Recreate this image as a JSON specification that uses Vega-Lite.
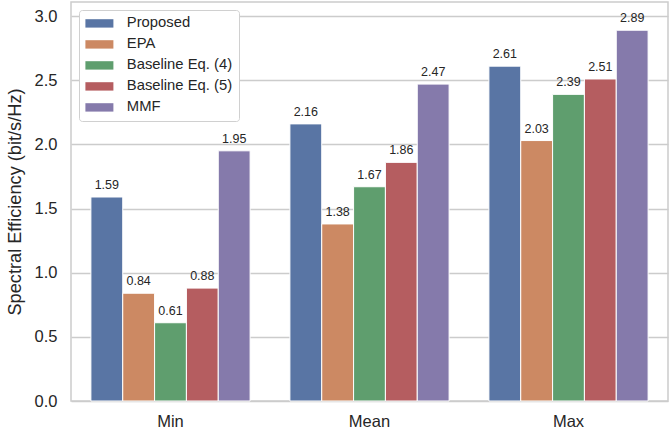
{
  "$schema": "https://vega.github.io/schema/vega-lite/v6.json",
  "autosize": {"type": "none"},
  "padding": {"left": 71, "top": 2, "right": 1, "bottom": 38},
  "width": 597,
  "height": 399,
  "background": "white",
  "config": {
    "font": "Liberation Sans",
    "view": {"stroke": "#cccccc", "strokeWidth": 1.5},
    "axis": {"labelColor": "#262626", "titleColor": "#262626", "titleFontWeight": "normal", "domain": false, "ticks": false}
  },
  "data": {
    "values": [
      {"stat": "Min", "method": "Proposed", "value": 1.59},
      {"stat": "Min", "method": "EPA", "value": 0.84},
      {"stat": "Min", "method": "Baseline Eq. (4)", "value": 0.61},
      {"stat": "Min", "method": "Baseline Eq. (5)", "value": 0.88},
      {"stat": "Min", "method": "MMF", "value": 1.95},
      {"stat": "Mean", "method": "Proposed", "value": 2.16},
      {"stat": "Mean", "method": "EPA", "value": 1.38},
      {"stat": "Mean", "method": "Baseline Eq. (4)", "value": 1.67},
      {"stat": "Mean", "method": "Baseline Eq. (5)", "value": 1.86},
      {"stat": "Mean", "method": "MMF", "value": 2.47},
      {"stat": "Max", "method": "Proposed", "value": 2.61},
      {"stat": "Max", "method": "EPA", "value": 2.03},
      {"stat": "Max", "method": "Baseline Eq. (4)", "value": 2.39},
      {"stat": "Max", "method": "Baseline Eq. (5)", "value": 2.51},
      {"stat": "Max", "method": "MMF", "value": 2.89}
    ]
  },
  "encoding": {
    "x": {
      "field": "stat", "type": "nominal", "sort": ["Min", "Mean", "Max"],
      "scale": {"paddingInner": 0.2, "paddingOuter": 0.1},
      "axis": {"title": null, "labelAngle": 0, "labelFontSize": 16.5, "labelPadding": 12, "grid": false}
    },
    "xOffset": {
      "field": "method", "type": "nominal",
      "sort": ["Proposed", "EPA", "Baseline Eq. (4)", "Baseline Eq. (5)", "MMF"],
      "scale": {"paddingInner": 0, "paddingOuter": 0}
    },
    "y": {
      "field": "value", "type": "quantitative",
      "scale": {"domain": [0, 3.11], "nice": false},
      "axis": {"title": "Spectral Efficiency (bit/s/Hz)", "titleFontSize": 18.2, "titlePadding": 10, "labelFontSize": 16.5, "labelPadding": 14, "format": ".1f", "values": [0, 0.5, 1, 1.5, 2, 2.5, 3], "gridColor": "#cccccc", "gridWidth": 1.5}
    }
  },
  "layer": [
    {
      "mark": {"type": "bar", "stroke": "white", "strokeWidth": 1},
      "encoding": {
        "color": {
          "field": "method", "type": "nominal",
          "sort": ["Proposed", "EPA", "Baseline Eq. (4)", "Baseline Eq. (5)", "MMF"],
          "scale": {"range": ["#5975a4", "#cc8963", "#5f9e6e", "#b55d60", "#857aab"]},
          "legend": {
            "title": null, "orient": "none", "legendX": 8, "legendY": 8,
            "symbolType": "M-1,-0.6H3V0.6H-1Z", "symbolSize": 196, "symbolStrokeWidth": 0,
            "labelFontSize": 14.8, "labelColor": "#262626", "labelOffset": 27,
            "strokeColor": "#d0d0d0", "cornerRadius": 3, "padding": 6, "rowPadding": 5,
            "fillColor": "white"
          }
        }
      }
    },
    {
      "mark": {"type": "text", "baseline": "bottom", "dy": -5, "fontSize": 12.5, "color": "#262626"},
      "encoding": {"text": {"field": "value", "type": "quantitative", "format": ".2f"}}
    }
  ]
}
